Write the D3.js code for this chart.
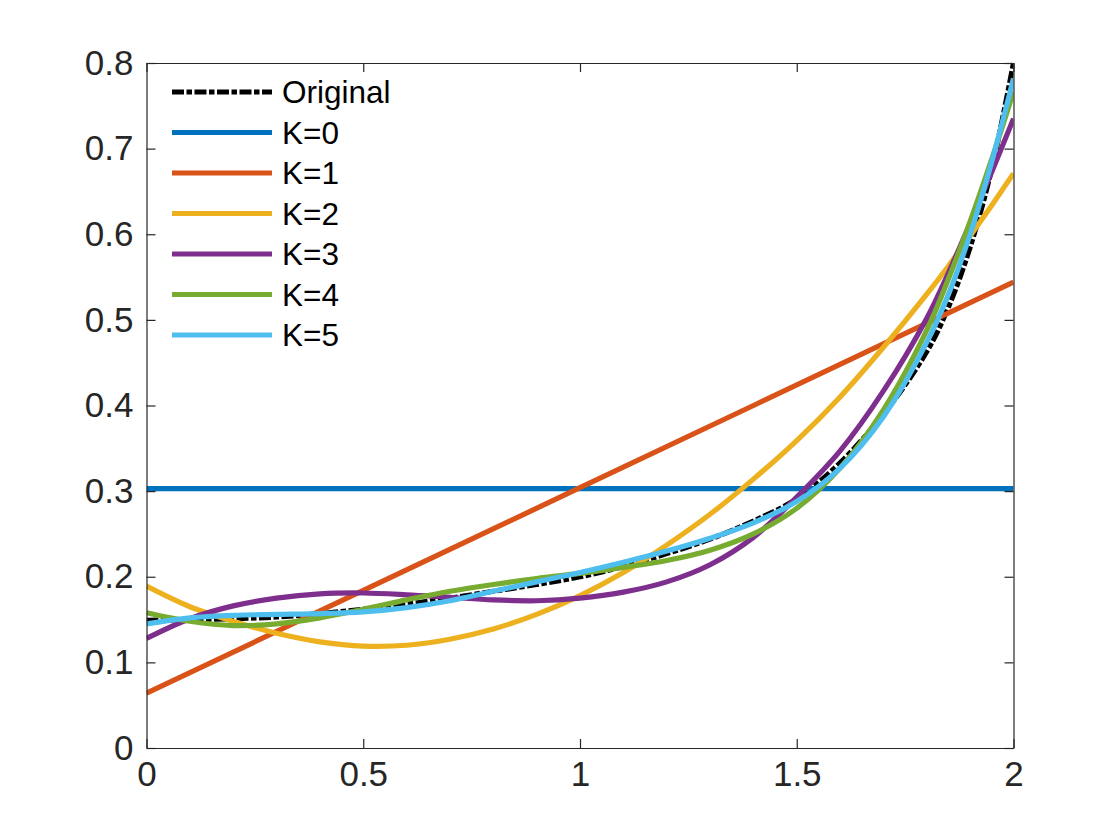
<!DOCTYPE html>
<html>
<head>
<meta charset="utf-8">
<script src="https://cdn.jsdelivr.net/npm/d3@7"></script>
<style>
  html, body { margin: 0; padding: 0; background: #fff; }
  svg { display: block; }
</style>
</head>
<body>
<svg id="chart" width="1120" height="840"></svg>
<script>
// ---- data ----
const xs = [0, 0.1, 0.2, 0.3, 0.4, 0.5, 0.6, 0.7, 0.8, 0.9, 1.0, 1.1, 1.2, 1.3, 1.4, 1.5, 1.6, 1.7, 1.8, 1.85, 1.9, 1.95, 2.0];
const original = [0.149, 0.150, 0.151, 0.153, 0.157, 0.162, 0.168, 0.175, 0.183, 0.191, 0.200, 0.212, 0.227, 0.244, 0.265, 0.291, 0.333, 0.390, 0.463, 0.515, 0.585, 0.677, 0.800];
const k0x = [0, 2];
const k0 = [0.303, 0.303];
const k1x = [0, 1, 2];
const k1 = [0.064, 0.304, 0.544];
const k2 = [0.189, 0.165, 0.148, 0.134, 0.124, 0.119, 0.120, 0.127, 0.139, 0.156, 0.178, 0.205, 0.237, 0.273, 0.314, 0.359, 0.410, 0.468, 0.530, 0.563, 0.598, 0.634, 0.671];
const k3 = [0.128, 0.151, 0.166, 0.175, 0.180, 0.181, 0.179, 0.176, 0.173, 0.172, 0.175, 0.182, 0.194, 0.214, 0.246, 0.293, 0.347, 0.417, 0.502, 0.555, 0.613, 0.673, 0.735];
const k4 = [0.158, 0.148, 0.143, 0.145, 0.152, 0.162, 0.173, 0.183, 0.191, 0.198, 0.204, 0.211, 0.219, 0.231, 0.250, 0.280, 0.327, 0.395, 0.488, 0.548, 0.615, 0.688, 0.7665];
const k5 = [0.145, 0.152, 0.155, 0.156, 0.157, 0.159, 0.164, 0.172, 0.183, 0.194, 0.205, 0.217, 0.230, 0.245, 0.263, 0.288, 0.327, 0.387, 0.474, 0.530, 0.600, 0.685, 0.782];
const seriesNames = ["Original", "K=0", "K=1", "K=2", "K=3", "K=4", "K=5"];
const seriesColors = ["#000000", "#0072BD", "#D95319", "#EDB120", "#7E2F8E", "#77AC30", "#4DBEEE"];
const xTicks = [0, 0.5, 1, 1.5, 2];
const yTicks = [0, 0.1, 0.2, 0.3, 0.4, 0.5, 0.6, 0.7, 0.8];

const series = [
  {name: seriesNames[0], xv: xs, yv: original, color: seriesColors[0], dash: "12,2.5,5.5,2.5"},
  {name: seriesNames[1], xv: k0x, yv: k0, color: seriesColors[1]},
  {name: seriesNames[2], xv: k1x, yv: k1, color: seriesColors[2]},
  {name: seriesNames[3], xv: xs, yv: k2, color: seriesColors[3]},
  {name: seriesNames[4], xv: xs, yv: k3, color: seriesColors[4]},
  {name: seriesNames[5], xv: xs, yv: k4, color: seriesColors[5]},
  {name: seriesNames[6], xv: xs, yv: k5, color: seriesColors[6]},
];

// ---- layout ----
const mLeft = 146.5, mRight = 1013.5, mTop = 63, mBottom = 748;
const x = d3.scaleLinear().domain([0, 2]).range([mLeft, mRight]);
const y = d3.scaleLinear().domain([0, 0.8]).range([mBottom, mTop]);
const axisColor = "#262626";
const font = "'Liberation Sans', Arial, Helvetica, sans-serif";

const svg = d3.select("#chart");
svg.append("defs").append("clipPath").attr("id", "clip")
  .append("rect").attr("x", mLeft).attr("y", mTop - 3).attr("width", mRight - mLeft).attr("height", mBottom - mTop + 3);

// ---- lines ----
const line = d3.line().x(d => x(d[0])).y(d => y(d[1])).curve(d3.curveCatmullRom.alpha(0.5));
const g = svg.append("g").attr("clip-path", "url(#clip)");
series.forEach(s => {
  const pts = s.xv.map((xv, i) => [xv, s.yv[i]]);
  g.append("path")
    .attr("d", line(pts))
    .attr("fill", "none")
    .attr("stroke", s.color)
    .attr("stroke-width", 5.2)
    .attr("stroke-dasharray", s.dash || null);
});

// ---- axes (box with inward ticks on all sides) ----
const tickLen = 9;
const axBottom = d3.axisBottom(x).tickValues(xTicks).tickSizeInner(-tickLen).tickSizeOuter(0).tickPadding(13)
  .tickFormat(d => d3.format("")(d));
const axTop = d3.axisTop(x).tickValues(xTicks).tickSizeInner(-tickLen).tickSizeOuter(0).tickFormat("");
const axLeft = d3.axisLeft(y).tickValues(yTicks).tickSizeInner(-tickLen).tickSizeOuter(0).tickPadding(13)
  .tickFormat(d => d3.format("")(+d.toFixed(1)));
const axRight = d3.axisRight(y).tickValues(yTicks).tickSizeInner(-tickLen).tickSizeOuter(0).tickFormat("");

function style(sel) {
  sel.selectAll("path.domain").attr("stroke", axisColor).attr("stroke-width", 1.2);
  sel.selectAll(".tick line").attr("stroke", axisColor).attr("stroke-width", 1.2);
  sel.selectAll(".tick text").attr("fill", axisColor).style("font-family", font).style("font-size", "35px");
}
svg.append("g").attr("transform", `translate(0,${mBottom})`).call(axBottom).call(style);
svg.append("g").attr("transform", `translate(0,${mTop})`).call(axTop).call(style);
svg.append("g").attr("transform", `translate(${mLeft},0)`).call(axLeft).call(style);
svg.append("g").attr("transform", `translate(${mRight},0)`).call(axRight).call(style);

// ---- legend ----
const legX = 172, legY0 = 92, legDy = 40.5;
const leg = svg.append("g");
series.forEach((s, i) => {
  const yy = legY0 + i * legDy;
  leg.append("line")
    .attr("x1", legX).attr("x2", legX + 100).attr("y1", yy).attr("y2", yy)
    .attr("stroke", s.color).attr("stroke-width", 5.2)
    .attr("stroke-dasharray", s.dash || null);
  leg.append("text")
    .attr("x", legX + 110).attr("y", yy)
    .attr("dy", "0.35em")
    .attr("fill", "#000")
    .style("font-family", font).style("font-size", "31.5px")
    .text(s.name);
});
</script>
</body>
</html>
